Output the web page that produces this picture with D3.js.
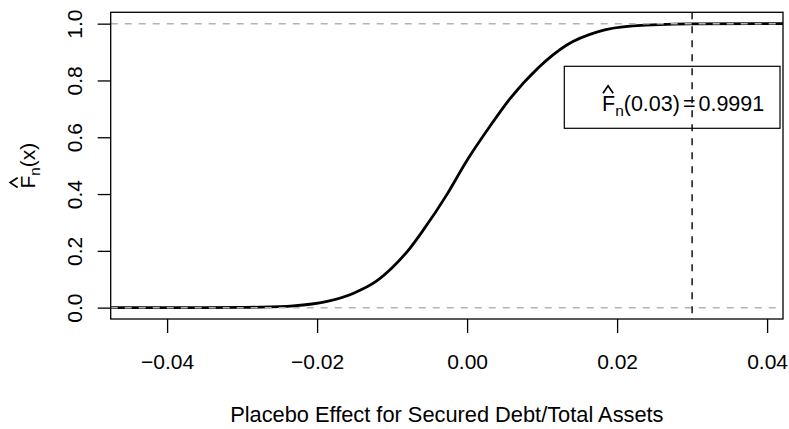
<!DOCTYPE html>
<html lang="en">
<head>
  <meta charset="UTF-8">
  <title>ECDF of placebo effect</title>
  <script src="https://d3js.org/d3.v7.min.js"></script>
  <style>
    body { margin: 0; background: #fff; }
    svg { display: block; font-family: "Liberation Sans", Arial, sans-serif; }
  </style>
</head>
<body>
<div id="chart"></div>
<script>
  // ECDF: knots and F_n values
  const knotsX = [-0.0442, -0.035, -0.030, -0.0277, -0.0232, -0.0188, -0.0152, -0.0121,
                  -0.0099, -0.0076, -0.0059, -0.0027, -0.0001, 0.0030, 0.0057, 0.0095,
                  0.0133, 0.0175, 0.0221, 0.0297, 0.0388];
  const fnVals = [0, 0.0002, 0.0008, 0.0015, 0.006, 0.021, 0.050, 0.093,
                  0.143, 0.210, 0.271, 0.398, 0.515, 0.637, 0.735, 0.845,
                  0.925, 0.972, 0.992, 0.999, 1];
  const xTicks = [-0.04, -0.02, 0, 0.02, 0.04];
  const yTicks = [0, 0.2, 0.4, 0.6, 0.8, 1];
  const hLines = [0, 1];
  const vLine = 0.03;
  const legendValue = "0.9991";

  const W = 789, H = 429;
  const plot = { left: 110.7, right: 783, top: 12.3, bottom: 319 };

  // R style 4% padding on the data range
  const ext = d3.extent(knotsX);
  const pad = (ext[1] - ext[0]) * 0.04;
  const x = d3.scaleLinear().domain([ext[0] - pad, ext[1] + pad]).range([plot.left, plot.right]);
  const y = d3.scaleLinear().domain([-0.04, 1.04]).range([plot.bottom, plot.top]);

  const svg = d3.select("#chart").append("svg")
    .attr("width", W).attr("height", H);

  svg.append("clipPath").attr("id", "clip")
    .append("rect")
    .attr("x", plot.left).attr("y", plot.top)
    .attr("width", plot.right - plot.left).attr("height", plot.bottom - plot.top);

  const inner = svg.append("g").attr("clip-path", "url(#clip)");

  // curve, extended flat to the plot edges
  const pts = [[x.domain()[0], 0]].concat(knotsX.map((k, i) => [k, fnVals[i]]), [[x.domain()[1], 1]]);
  inner.append("path")
    .datum(pts)
    .attr("fill", "none")
    .attr("stroke", "#000")
    .attr("stroke-width", 2.8)
    .attr("d", d3.line().x(d => x(d[0])).y(d => y(d[1])).curve(d3.curveMonotoneX));

  // gray dashed lines at 0 and 1
  inner.selectAll(".h01")
    .data(hLines)
    .join("line")
    .attr("x1", plot.left).attr("x2", plot.right)
    .attr("y1", d => y(d)).attr("y2", d => y(d))
    .attr("stroke", "#b3b3b3")
    .attr("stroke-width", 1.5)
    .attr("stroke-dasharray", "7,7");

  // vertical dashed line
  inner.append("line")
    .attr("x1", x(vLine)).attr("x2", x(vLine))
    .attr("y1", plot.top).attr("y2", plot.bottom)
    .attr("stroke", "#000")
    .attr("stroke-width", 1.4)
    .attr("stroke-dasharray", "7,7");

  // box
  svg.append("rect")
    .attr("x", plot.left).attr("y", plot.top)
    .attr("width", plot.right - plot.left).attr("height", plot.bottom - plot.top)
    .attr("fill", "none").attr("stroke", "#000").attr("stroke-width", 1.3);

  // x axis
  const xAxis = svg.append("g")
    .attr("transform", `translate(0,${plot.bottom})`)
    .call(d3.axisBottom(x).tickValues(xTicks).tickFormat(d3.format(".2f")).tickSize(14).tickPadding(0));
  xAxis.select(".domain").remove();
  xAxis.selectAll("line").attr("stroke", "#000").attr("stroke-width", 1.3);
  xAxis.selectAll("text")
    .attr("font-size", 21).attr("font-family", "Liberation Sans, Arial, sans-serif")
    .attr("fill", "#000").attr("dy", null).attr("y", 50);

  // y axis, labels rotated
  const yAxis = svg.append("g")
    .attr("transform", `translate(${plot.left},0)`)
    .call(d3.axisLeft(y).tickValues(yTicks).tickFormat(d3.format(".1f")).tickSize(13));
  yAxis.select(".domain").remove();
  yAxis.selectAll("line").attr("stroke", "#000").attr("stroke-width", 1.3);
  yAxis.selectAll("text")
    .attr("font-size", 21).attr("font-family", "Liberation Sans, Arial, sans-serif")
    .attr("fill", "#000")
    .attr("x", null).attr("dy", null)
    .attr("text-anchor", "middle")
    .attr("transform", "translate(-29,0) rotate(-90)");

  // x title
  svg.append("text")
    .attr("x", (plot.left + plot.right) / 2).attr("y", 422)
    .attr("text-anchor", "middle").attr("font-size", 21.8)
    .text("Placebo Effect for Secured Debt/Total Assets");

  // F-hat_n(...) label with hat drawn as a path
  function fhat(g, size, rest, extra) {
    const t = g.append("text").attr("font-size", size);
    t.append("tspan").text("F");
    t.append("tspan").attr("font-size", size * 0.72).attr("dy", size * 0.24).text("n");
    t.append("tspan").attr("dy", -size * 0.24).text(rest);
    if (extra) extra(t);
    return t;
  }
  function addHat(g, t, size) {
    const n = t.node();
    const p = n.getStartPositionOfChar(0);
    const e = n.getExtentOfChar(0);
    const top = p.y - size * 0.73;
    g.append("path")
      .attr("d", `M${p.x + 1},${top - 2} L${p.x + e.width / 2 - 0.5},${top - 9.5} L${p.x + e.width - 2},${top - 2}`)
      .attr("fill", "none").attr("stroke", "#000").attr("stroke-width", 1.7);
  }

  const yt = svg.append("g").attr("transform", `translate(35,${(plot.top + plot.bottom) / 2}) rotate(-90)`);
  const ytText = fhat(yt, 21, "(x)");
  const ytw = ytText.node().getComputedTextLength();
  ytText.attr("x", -ytw / 2);
  addHat(yt, ytText, 21);

  // legend
  svg.append("rect")
    .attr("x", 564.3).attr("y", 66.3).attr("width", 215.7).attr("height", 62)
    .attr("fill", "none").attr("stroke", "#000").attr("stroke-width", 1.2);
  const lg = svg.append("g").attr("transform", "translate(602,111)");
  const lgText = fhat(lg, 21.5, "(0.03)", t => {
    t.append("tspan").attr("dx", 3).text("=");
    t.append("tspan").attr("dx", 3).text(legendValue);
  });
  addHat(lg, lgText, 21.5);
</script>
</body>
</html>
